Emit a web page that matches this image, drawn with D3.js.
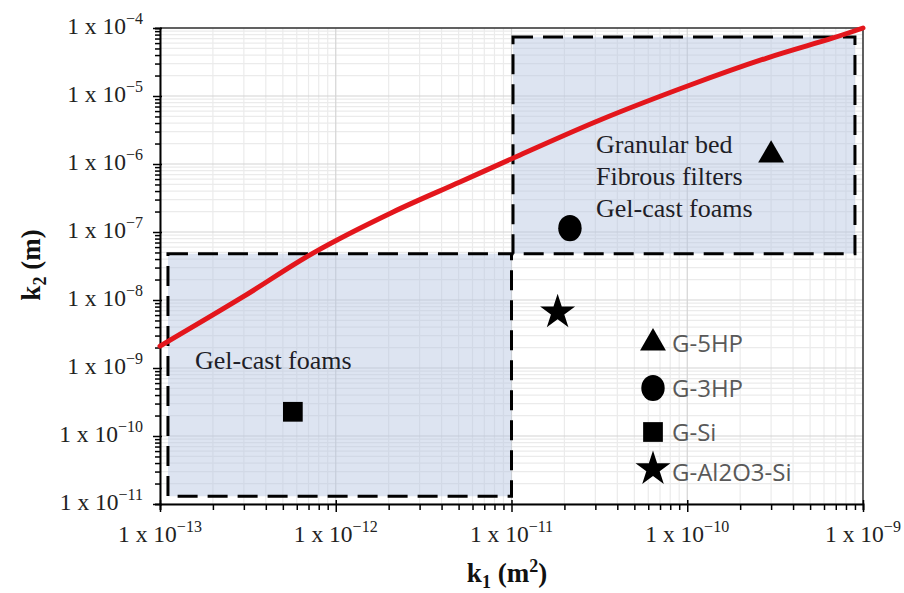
<!DOCTYPE html>
<html lang="en">
<head>
  <meta charset="utf-8">
  <title>k1 vs k2</title>
  <script src="https://d3js.org/d3.v7.min.js"></script>
  <style>
    body { margin: 0; background: #fff; }
    .tick-label { font-family: "Liberation Serif", "Times New Roman", serif; font-size: 23.5px; fill: #222; }
    .note { font-family: "Liberation Serif", "Times New Roman", serif; font-size: 26px; fill: #1e1e28; }
    .legend-label { font-family: "Open Sans", sans-serif; font-size: 24px; fill: #595959; }
    .axis-title { font-family: "Liberation Serif", "Times New Roman", serif; font-size: 27px; font-weight: bold; fill: #111; }
  </style>
</head>
<body>
<script>
// axis decades
var xDecades = [-13, -12, -11, -10, -9];
var yDecades = [-11, -10, -9, -8, -7, -6, -5, -4];

// red correlation curve
var curveK1 = [1e-13, 2.96e-13, 7.43e-13, 2.12e-12, 5.09e-12, 1.12e-11, 3.19e-11, 1.04e-10, 2.84e-10, 6.75e-10, 1e-9];
var curveK2 = [2.1e-9, 1.11e-8, 4.9e-8, 1.97e-7, 5.43e-7, 1.36e-6, 4.44e-6, 1.45e-5, 3.62e-5, 7.13e-5, 1e-4];

// shaded regions [k1 min, k1 max, k2 min, k2 max]
var regionNames = ["Gel-cast foams", "Granular bed / Fibrous filters / Gel-cast foams"];
var regionBounds = [
  [1.11e-13, 1e-11, 1.3e-11, 4.8e-8],
  [1.02e-11, 9e-10, 4.8e-8, 7.4e-5]
];

// samples
var sampleNames = ["G-5HP", "G-3HP", "G-Si", "G-Al2O3-Si"];
var sampleK1 = [3.0e-10, 2.15e-11, 5.7e-13, 1.83e-11];
var sampleK2 = [1.35e-6, 1.14e-7, 2.27e-10, 6.6e-9];
var sampleShapes = ["triangle", "circle", "square", "star"];

var W = 904, H = 593;
var pLeft = 160, pRight = 863, pTop = 28, pBottom = 504;

var svg = d3.select("body").append("svg")
  .attr("width", W)
  .attr("height", H);

var x = d3.scaleLog().domain([1e-13, 1e-9]).range([pLeft, pRight]);
var y = d3.scaleLog().domain([1e-11, 1e-4]).range([pBottom, pTop]);

var xMajor = xDecades.map(function(d) { return Math.pow(10, d); });
var yMajor = yDecades.map(function(d) { return Math.pow(10, d); });
function isMajor(v, list) {
  return list.some(function(m) { return Math.abs(v / m - 1) < 1e-6; });
}
var xMinor = x.ticks().filter(function(v) { return !isMajor(v, xMajor); });
var yMinor = y.ticks().filter(function(v) { return !isMajor(v, yMajor); });

// grid
var grid = svg.append("g");
grid.selectAll(".gx").data(xMinor).enter().append("line")
  .attr("x1", function(d) { return x(d); }).attr("x2", function(d) { return x(d); })
  .attr("y1", pTop).attr("y2", pBottom)
  .attr("stroke", "#ebebeb").attr("stroke-width", 1.2);
grid.selectAll(".gy").data(yMinor).enter().append("line")
  .attr("y1", function(d) { return y(d); }).attr("y2", function(d) { return y(d); })
  .attr("x1", pLeft).attr("x2", pRight)
  .attr("stroke", "#ebebeb").attr("stroke-width", 1.2);
grid.selectAll(".gX").data(xMajor).enter().append("line")
  .attr("x1", function(d) { return x(d); }).attr("x2", function(d) { return x(d); })
  .attr("y1", pTop).attr("y2", pBottom)
  .attr("stroke", "#d4d4d4").attr("stroke-width", 1.2);
grid.selectAll(".gY").data(yMajor).enter().append("line")
  .attr("y1", function(d) { return y(d); }).attr("y2", function(d) { return y(d); })
  .attr("x1", pLeft).attr("x2", pRight)
  .attr("stroke", "#d4d4d4").attr("stroke-width", 1.2);

// shaded regions
svg.selectAll(".region").data(regionBounds).enter().append("rect")
  .attr("x", function(d) { return x(d[0]); })
  .attr("y", function(d) { return y(d[3]); })
  .attr("width", function(d) { return x(d[1]) - x(d[0]); })
  .attr("height", function(d) { return y(d[2]) - y(d[3]); })
  .attr("fill", "#b4c3e1")
  .attr("fill-opacity", 0.45)
  .attr("stroke", "#000")
  .attr("stroke-width", 3)
  .attr("stroke-dasharray", "20,10");

// frame top/right
svg.append("line").attr("x1", pLeft).attr("x2", pRight).attr("y1", pTop).attr("y2", pTop)
  .attr("stroke", "#333").attr("stroke-width", 1.5);
svg.append("line").attr("x1", pRight).attr("x2", pRight).attr("y1", pTop).attr("y2", pBottom)
  .attr("stroke", "#333").attr("stroke-width", 1.5);

// axes
var yAxis = svg.append("g").attr("transform", "translate(" + pLeft + ",0)")
  .call(d3.axisLeft(y).tickValues(yMinor.concat(yMajor)).tickFormat("").tickSizeOuter(0).tickSize(5));
var xAxis = svg.append("g").attr("transform", "translate(0," + pBottom + ")")
  .call(d3.axisBottom(x).tickValues(xMinor.concat(xMajor)).tickFormat("").tickSizeOuter(0).tickSize(6));
[yAxis, xAxis].forEach(function(a) {
  a.select(".domain").attr("stroke", "#000").attr("stroke-width", 2);
  a.selectAll(".tick line").attr("stroke", "#000").attr("stroke-width", 1.5);
});
yAxis.selectAll(".tick line").filter(function(d) { return isMajor(d, yMajor); }).attr("x1", 2).attr("x2", -7);
xAxis.selectAll(".tick line").filter(function(d) { return isMajor(d, xMajor); }).attr("y1", -4).attr("y2", 8);

// tick labels
var yl = svg.selectAll(".ylab").data(yDecades).enter().append("text")
  .attr("class", "tick-label")
  .attr("text-anchor", "end")
  .attr("x", 143)
  .attr("y", function(d) { return y(Math.pow(10, d)) + 6; });
yl.append("tspan").text("1 x 10");
yl.append("tspan").attr("dy", -10).attr("font-size", 16).text(function(d) { return "\u2212" + (-d); });

var xl = svg.selectAll(".xlab").data(xDecades).enter().append("text")
  .attr("class", "tick-label")
  .attr("text-anchor", "middle")
  .attr("x", function(d) { return x(Math.pow(10, d)); })
  .attr("y", 542);
xl.append("tspan").text("1 x 10");
xl.append("tspan").attr("dy", -10).attr("font-size", 16).text(function(d) { return "\u2212" + (-d); });

// red curve
var line = d3.line()
  .x(function(d) { return x(d[0]); })
  .y(function(d) { return y(d[1]); })
  .curve(d3.curveCatmullRom.alpha(0.5));
svg.append("path")
  .datum(d3.zip(curveK1, curveK2))
  .attr("d", line)
  .attr("fill", "none")
  .attr("stroke", "#e3161c")
  .attr("stroke-width", 5)
  .attr("stroke-linecap", "round");

// region notes
svg.append("text").attr("class", "note").attr("x", 195).attr("y", 369).text("Gel-cast foams");
var noteLines = ["Granular bed", "Fibrous filters", "Gel-cast foams"];
svg.selectAll(".note2").data(noteLines).enter().append("text")
  .attr("class", "note")
  .attr("x", 596)
  .attr("y", function(d, i) { return 153 + i * 32; })
  .text(function(d) { return d; });

// markers
var symType = { triangle: d3.symbolTriangle, circle: d3.symbolCircle, square: d3.symbolSquare, star: d3.symbolStar };
var symSize = { triangle: 290, circle: 430, square: 390, star: 380 };
function marker(sel, shape) {
  sel.attr("d", d3.symbol().type(symType[shape]).size(symSize[shape])())
    .attr("fill", "#000");
}
sampleNames.forEach(function(name, i) {
  var s = sampleShapes[i];
  var p = svg.append("path")
    .attr("transform", "translate(" + x(sampleK1[i]) + "," + y(sampleK2[i]) + ")" + (s === "circle" ? " scale(1,1.12)" : ""));
  marker(p, s);
});

// legend
var legendY = [343, 388, 432, 469];
sampleNames.forEach(function(name, i) {
  var s = sampleShapes[i];
  var p = svg.append("path")
    .attr("transform", "translate(653," + legendY[i] + ")" + (s === "circle" ? " scale(1,1.12)" : ""));
  marker(p, s);
  svg.append("text").attr("class", "legend-label")
    .attr("x", 672).attr("y", legendY[i] + 9 + (i === 3 ? 3 : 0))
    .text(name);
});

// axis titles
var t2 = svg.append("text").attr("class", "axis-title")
  .attr("text-anchor", "middle")
  .attr("transform", "translate(40,265) rotate(-90)");
t2.append("tspan").text("k");
t2.append("tspan").attr("dy", 6).attr("font-size", 18).text("2");
t2.append("tspan").attr("dy", -6).text(" (m)");

var t1 = svg.append("text").attr("class", "axis-title")
  .attr("text-anchor", "middle")
  .attr("x", 507).attr("y", 582);
t1.append("tspan").text("k");
t1.append("tspan").attr("dy", 6).attr("font-size", 18).text("1");
t1.append("tspan").attr("dy", -6).text(" (m");
t1.append("tspan").attr("dy", -10).attr("font-size", 18).text("2");
t1.append("tspan").attr("dy", 10).text(")");
</script>
</body>
</html>
